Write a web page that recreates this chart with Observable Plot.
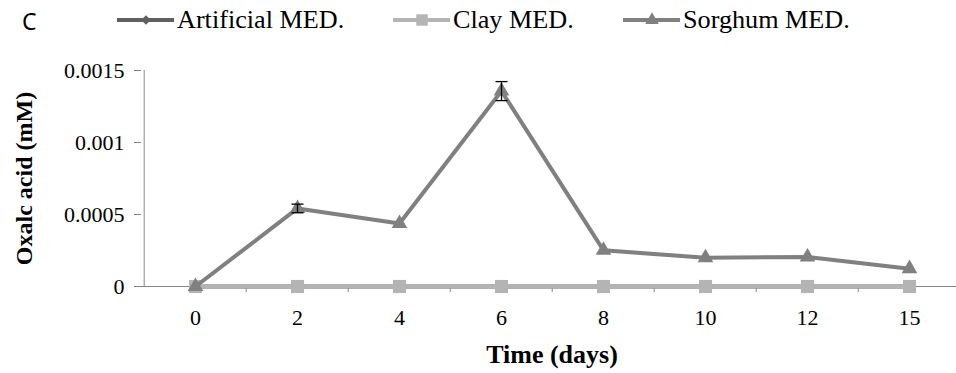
<!DOCTYPE html>
<html><head><meta charset="utf-8">
<script src="https://cdn.jsdelivr.net/npm/d3@7"></script>
<script src="https://cdn.jsdelivr.net/npm/@observablehq/plot@0.6"></script>
<style>
body{margin:0;background:#fff;}
#legend{position:relative;width:956px;height:40px;font-family:"Liberation Serif","Times New Roman",serif;font-size:22px;color:#000;}
#legend .panel{position:absolute;left:22px;top:6px;font-family:"Noto Sans",sans-serif;font-size:23px;line-height:30px;}
#legend .item{position:absolute;top:0;height:40px;}
#legend .item svg{position:absolute;top:0;left:0;}
#legend .item span{position:absolute;top:5px;line-height:30px;white-space:nowrap;transform:scale(1.19);transform-origin:0 50%;}
</style></head><body>
<div id="legend"></div>
<div id="chart"></div>
<script>
const days = ["0","2","4","6","8","10","12","15"];
const artificial = [0,0,0,0,0,0,0,0];
const clay = [0,0,0,0,0,0,0,0];
const sorghum = [0, 0.000542, 0.000437, 0.001357, 0.000251, 0.000200, 0.000205, 0.000124];
const sorghumErr = [0, 0.00003, 0, 0.000066, 0, 0, 0, 0];
const seriesNames = ["Artificial MED.", "Clay MED.", "Sorghum MED."];
const seriesColors = ["#606060", "#b4b4b4", "#808080"];
const seriesSymbols = ["diamond2", "square", "triangle"];
const yTicks = [0, 0.0005, 0.001, 0.0015];
const yTickLabels = ["0", "0.0005", "0.001", "0.0015"];
const panelLabel = "C";
const xTitle = "Time (days)";
const yTitle = "Oxalc acid (mM)";

const seriesValues = [artificial, clay, sorghum];
const rows = [];
seriesValues.forEach((vals, s) => vals.forEach((v, i) => rows.push({series: seriesNames[s], day: days[i], value: v})));
const errRows = days.map((d, i) => ({day: d, value: sorghum[i], err: sorghumErr[i], lo: sorghum[i] - sorghumErr[i], hi: sorghum[i] + sorghumErr[i]})).filter(r => r.err > 0);

// legend
const legend = document.getElementById("legend");
const pl = document.createElement("div"); pl.className = "panel"; pl.textContent = panelLabel; legend.appendChild(pl);
const legendPos = [117, 393, 623];
const ns = "http://www.w3.org/2000/svg";
seriesNames.forEach((name, s) => {
  const it = document.createElement("div"); it.className = "item"; it.style.left = legendPos[s] + "px";
  const svg = document.createElementNS(ns, "svg"); svg.setAttribute("width", 60); svg.setAttribute("height", 40);
  const ln = document.createElementNS(ns, "line");
  ln.setAttribute("x1", 0); ln.setAttribute("x2", 57); ln.setAttribute("y1", 20); ln.setAttribute("y2", 20);
  ln.setAttribute("stroke", seriesColors[s]); ln.setAttribute("stroke-width", 4);
  svg.appendChild(ln);
  const mk = document.createElementNS(ns, "path");
  const sym = {diamond2: d3.symbolDiamond2, square: d3.symbolSquare, triangle: d3.symbolTriangle}[seriesSymbols[s]];
  const size = {diamond2: 60, square: 130, triangle: 80}[seriesSymbols[s]];
  mk.setAttribute("d", d3.symbol(sym, size)());
  mk.setAttribute("transform", "translate(29,20)");
  mk.setAttribute("fill", seriesColors[s]);
  svg.appendChild(mk);
  it.appendChild(svg);
  const sp = document.createElement("span"); sp.style.left = "60px"; sp.textContent = name; it.appendChild(sp);
  legend.appendChild(it);
});

const xRange = [141, 962];
const step = (xRange[1] - xRange[0]) / days.length;
const axisGray = "#868686";
const serif = "'Liberation Serif', 'Times New Roman', serif";
const capSymbol = {draw(ctx, size) { ctx.moveTo(-6, 0); ctx.lineTo(6, 0); }};

const chart = Plot.plot({
  width: 956,
  height: 333,
  marginLeft: 141,
  marginRight: 0,
  marginTop: 30,
  marginBottom: 87,
  style: {fontFamily: serif, fontSize: "22px", color: "#000", background: "#fff", overflow: "visible"},
  x: {type: "point", domain: days, range: xRange, padding: 0.5},
  y: {domain: [0, 0.0015]},
  color: {domain: seriesNames, range: seriesColors},
  symbol: {domain: seriesNames, range: seriesSymbols},
  marks: [
    Plot.ruleY([0], {stroke: axisGray, strokeWidth: 1}),
    Plot.ruleX([days[0]], {dx: -step / 2, y1: 0, y2: 0.0015, stroke: axisGray, strokeWidth: 1}),
    Plot.axisX(days.slice(1), {tickSize: 6, tickFormat: () => "", dx: -step / 2, stroke: axisGray, label: null}),
    Plot.axisX({tickSize: 0, tickPadding: 23, fontSize: 22, fill: "#000", label: null}),
    Plot.axisY({ticks: yTicks, tickFormat: d => yTickLabels[yTicks.indexOf(d)], tickSize: 7, tickPadding: 10, stroke: axisGray, fill: "#000", fontSize: 22, label: null}),
    ...seriesNames.flatMap((name, s) => [
      Plot.line(rows.filter(r => r.series === name), {x: "day", y: "value", stroke: "series", strokeWidth: 4}),
      Plot.dot(rows.filter(r => r.series === name), {x: "day", y: "value", fill: "series", symbol: "series", r: s === 0 ? 4.5 : s === 1 ? 7.4 : 5.8, stroke: "none"})
    ]),
    Plot.link(errRows, {x1: "day", x2: "day", y1: "lo", y2: "hi", stroke: "#000", strokeWidth: 1.3}),
    Plot.dot(errRows, {x: "day", y: "hi", symbol: capSymbol, r: 6, stroke: "#000", strokeWidth: 1.3, fill: "none"}),
    Plot.dot(errRows, {x: "day", y: "lo", symbol: capSymbol, r: 6, stroke: "#000", strokeWidth: 1.3, fill: "none"}),
    Plot.text([xTitle], {frameAnchor: "bottom", dx: 3, dy: 68, text: d => d, fontWeight: "bold", fontSize: 26, lineAnchor: "middle", textAnchor: "middle", fill: "#000"}),
    Plot.text([yTitle], {frameAnchor: "left", dx: -117, text: d => d, rotate: -90, fontWeight: "bold", fontSize: 24, lineAnchor: "middle", textAnchor: "middle", fill: "#000"})
  ]
});
document.getElementById("chart").appendChild(chart);
</script>
</body></html>
